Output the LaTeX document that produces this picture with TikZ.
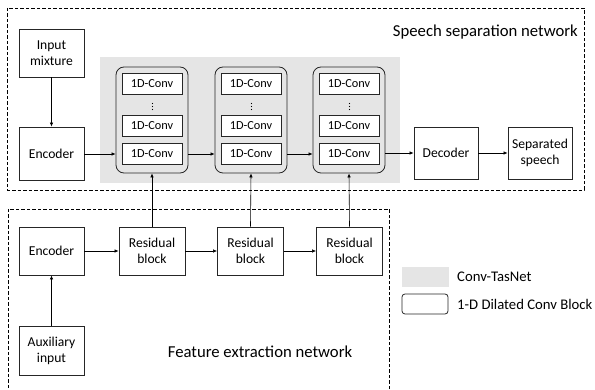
\documentclass[tikz,border=0pt]{standalone}
\usepackage{fontspec}
\setmainfont{Carlito}
\usetikzlibrary{arrows.meta}
\begin{document}
\begin{tikzpicture}[x=1pt,y=-1pt,
  box/.style={draw=black!85,line width=0.8pt,fill=white,inner sep=0pt,align=center,font=\fontsize{13.6}{16}\selectfont},
  conv/.style={draw=black!85,line width=0.8pt,fill=white,inner sep=0pt,minimum width=60pt,minimum height=21pt,font=\fontsize{12.3}{14}\selectfont},
  cblock/.style={draw=black!85,line width=0.8pt,rounded corners=8pt,inner sep=0pt,minimum width=72pt,minimum height=106pt},
  arr/.style={-{Latex[length=4pt,width=3.5pt]},line width=0.6pt},
  dashbox/.style={dash pattern=on 3.5pt off 2pt,line width=0.7pt},
  lbl/.style={font=\fontsize{16.7}{19}\selectfont,inner sep=0pt},
  leg/.style={font=\fontsize{14.7}{17}\selectfont,inner sep=0pt,anchor=west}]
\useasboundingbox (0,0) rectangle (595,390);
\begin{scope}
\clip (0,0) rectangle (595,390);
\draw[dashbox] (7,8) rectangle (584,190);
\draw[dashbox] (8,209) rectangle (389,400);
\end{scope}
\node[fill=black!10,inner sep=0pt,minimum width=300pt,minimum height=126pt] (tasnet) at (250,120) {};
\node[lbl,anchor=east] (sslbl) at (578,32) {Speech separation network};
\node[lbl] (felbl) at (260,352) {Feature extraction network};
% top
\node[box,minimum width=65pt,minimum height=48pt] (inp) at (51.5,53) {Input\\mixture};
\node[box,minimum width=65pt,minimum height=53pt] (enc1) at (51.5,153.5) {Encoder};
\foreach \i/\x in {1/152,2/251,3/349}{
  \node[cblock] (cb\i) at (\x,120) {};
  \node[conv] (c\i1) at (\x,84) {1D-Conv};
  \foreach \yy in {103.5,106.5,109.5} \fill (\x+0.5,\yy) circle (0.65pt);
  \node[conv] (c\i2) at (\x,125.5) {1D-Conv};
  \node[conv] (c\i3) at (\x,154) {1D-Conv};
}
\node[box,minimum width=64pt,minimum height=52pt] (dec) at (446,153) {Decoder};
\node[box,minimum width=64pt,minimum height=52pt] (sep) at (540,153) {Separated\\speech};
% bottom
\node[box,minimum width=65pt,minimum height=48pt] (enc2) at (51.5,251) {Encoder};
\node[box,minimum width=66pt,minimum height=48pt] (res1) at (152,251) {Residual\\block};
\node[box,minimum width=66pt,minimum height=48pt] (res2) at (250.5,251) {Residual\\block};
\node[box,minimum width=66pt,minimum height=48pt] (res3) at (349.5,251) {Residual\\block};
\node[box,minimum width=65pt,minimum height=49pt] (aux) at (51.5,350.5) {Auxiliary\\input};
% legend
\node[fill=black!10,inner sep=0pt,minimum width=47pt,minimum height=20pt] (legtas) at (425.5,277) {};
\node[leg] (legtastxt) at (457,277) {Conv-TasNet};
\node[draw=black!85,line width=0.8pt,rounded corners=3pt,inner sep=0pt,minimum width=46pt,minimum height=20pt] (legcb) at (425,304) {};
\node[leg] (legcbtxt) at (457,304) {1-D Dilated Conv Block};
% arrows
\draw[arr] (inp.south) -- (enc1.north);
\draw[arr] (enc1.east |- c13) -- (cb1.west |- c13);
\draw[arr] (cb1.east |- c13) -- (cb2.west |- c13);
\draw[arr] (cb2.east |- c13) -- (cb3.west |- c13);
\draw[arr] (cb3.east |- dec) -- (dec.west);
\draw[arr] (dec.east) -- (sep.west);
\draw[arr] (aux.north) -- (enc2.south);
\draw[arr] (enc2.east) -- (res1.west);
\draw[arr] (res1.east) -- (res2.west);
\draw[arr] (res2.east) -- (res3.west);
\draw[arr] (res1.north) -- (cb1.south);
\draw[arr] (res2.north) -- (cb2.south);
\draw[arr] (res3.north) -- (cb3.south);
\end{tikzpicture}
\end{document}
